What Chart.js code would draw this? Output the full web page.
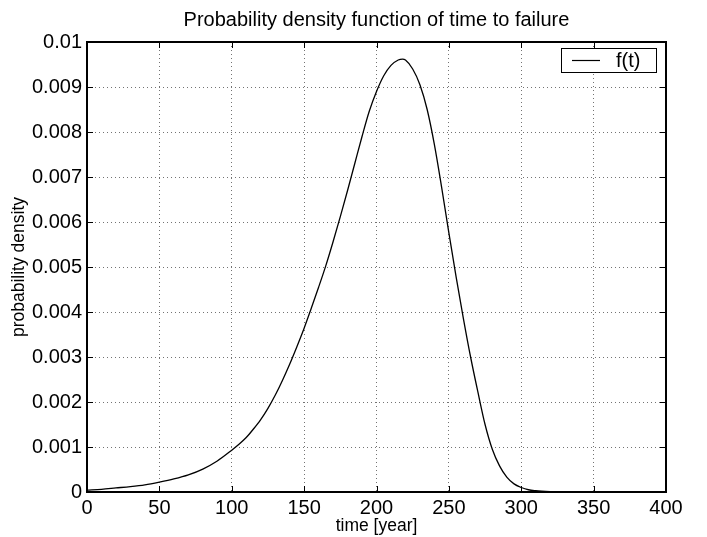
<!DOCTYPE html>
<html>
<head>
<meta charset="utf-8">
<script src="https://cdn.jsdelivr.net/npm/chart.js@4.4.1/dist/chart.umd.min.js"></script>
<style>
  html, body { margin: 0; padding: 0; background: #fff; }
  #wrap { width: 707px; height: 537px; }
</style>
</head>
<body>
<div id="wrap"><canvas id="pdfChart" width="707" height="537"></canvas></div>
<script>
// values
const years = [0, 10, 20, 30, 40, 50, 60, 70, 80, 90, 100, 105, 110, 115, 120, 125, 130, 135,
  140, 145, 150, 155, 160, 165, 170, 175, 180, 185, 190, 195, 200, 205, 210, 215, 218, 220,
  225, 230, 235, 240, 245, 250, 255, 260, 265, 270, 275, 280, 285, 290, 295, 300, 305, 310,
  320, 330, 340, 360, 380, 400]
const density = [0.00004, 0.00006, 0.00009, 0.00012, 0.00016, 0.00022, 0.00029, 0.00038, 0.00051,
  0.00069, 0.00093, 0.00106, 0.00121, 0.0014, 0.00161, 0.00186, 0.00215, 0.00248, 0.00284,
  0.00323, 0.00364, 0.00409, 0.00455, 0.00503, 0.00556, 0.00612, 0.0067, 0.0073, 0.0079, 0.00846,
  0.0089, 0.00925, 0.00948, 0.0096, 0.00962, 0.0096, 0.0094, 0.00905, 0.0085, 0.00772, 0.00677,
  0.00576, 0.00478, 0.00386, 0.003, 0.00223, 0.0015, 0.00095, 0.00058, 0.00033, 0.00018, 0.0001,
  0.00005, 0.00003, 0.00001, 0, 0, 0, 0, 0]

const xTicks = [0, 50, 100, 150, 200, 250, 300, 350, 400]
const yTicks = [0, 0.001, 0.002, 0.003, 0.004, 0.005, 0.006, 0.007, 0.008, 0.009, 0.01]

const titleText = 'Probability density function of time to failure'
const xLabel = 'time [year]'
const yLabel = 'probability density'
const seriesName = 'f(t)'

const fontFam = '"Liberation Sans", Arial, Helvetica, sans-serif'

// box, inward ticks and the boxed legend, drawn the matlab way
const frame = {
  id: 'frame',
  afterDatasetsDraw(chart) {
    const ctx = chart.ctx
    const a = chart.chartArea
    const sx = chart.scales.x
    const sy = chart.scales.y
    ctx.save()
    ctx.strokeStyle = '#000'
    ctx.lineWidth = 1
    const tl = 6
    xTicks.forEach(v => {
      const px = Math.round(sx.getPixelForValue(v)) + 0.5
      ctx.beginPath()
      ctx.moveTo(px, a.bottom); ctx.lineTo(px, a.bottom - tl)
      ctx.moveTo(px, a.top); ctx.lineTo(px, a.top + tl)
      ctx.stroke()
    })
    yTicks.forEach(v => {
      const py = Math.round(sy.getPixelForValue(v)) + 0.5
      ctx.beginPath()
      ctx.moveTo(a.left, py); ctx.lineTo(a.left + tl, py)
      ctx.moveTo(a.right, py); ctx.lineTo(a.right - tl, py)
      ctx.stroke()
    })
    ctx.lineWidth = 2
    ctx.strokeRect(a.left, a.top, a.right - a.left, a.bottom - a.top)

    // legend
    const lx = 561, ly = 48, lw = 95, lh = 24
    ctx.fillStyle = '#fff'
    ctx.fillRect(lx, ly, lw, lh)
    ctx.lineWidth = 1
    ctx.strokeRect(lx + 0.5, ly + 0.5, lw, lh)
    ctx.beginPath()
    ctx.lineWidth = 1.2
    ctx.moveTo(572, ly + lh / 2 + 0.5); ctx.lineTo(600, ly + lh / 2 + 0.5)
    ctx.stroke()
    ctx.fillStyle = '#000'
    ctx.font = '20px ' + fontFam
    ctx.textBaseline = 'middle'
    ctx.textAlign = 'left'
    ctx.fillText(chart.data.datasets[0].label, 616, ly + lh / 2 + 1)
    ctx.restore()
  }
}

const ctx = document.getElementById('pdfChart')
new Chart(ctx, {
  type: 'line',
  data: {
    datasets: [{
      label: seriesName,
      data: years.map((t, i) => ({ x: t, y: density[i] })),
      borderColor: '#000',
      borderWidth: 1.3,
      pointRadius: 0,
      fill: false,
      cubicInterpolationMode: 'monotone'
    }]
  },
  options: {
    responsive: false,
    animation: false,
    devicePixelRatio: 1,
    layout: { padding: { left: 0, right: 41, top: 0, bottom: 0 } },
    plugins: {
      legend: { display: false },
      tooltip: { enabled: false },
      title: {
        display: true,
        fullSize: false,
        text: titleText,
        color: '#000',
        font: { family: fontFam, size: 20, weight: 'normal', lineHeight: 1.2 },
        padding: { top: 8, bottom: 10 }
      }
    },
    scales: {
      x: {
        type: 'linear',
        min: 0,
        max: 400,
        afterFit: s => { s.height = 45 },
        afterBuildTicks: s => { s.ticks = xTicks.map(v => ({ value: v })) },
        ticks: {
          color: '#000',
          font: { family: fontFam, size: 20 },
          padding: 4,
          maxRotation: 0
        },
        grid: { color: 'rgba(0,0,0,0.55)', lineWidth: 1, tickLength: 0, drawTicks: true },
        border: { display: false, dash: [1, 3] },
        title: {
          display: true,
          text: xLabel,
          color: '#000',
          font: { family: fontFam, size: 17.5 },
          padding: { top: 0, bottom: 0 }
        }
      },
      y: {
        min: 0,
        max: 0.01,
        afterFit: s => { s.width = 87 },
        afterBuildTicks: s => { s.ticks = yTicks.map(v => ({ value: v })) },
        ticks: {
          color: '#000',
          font: { family: fontFam, size: 20 },
          padding: 5,
          callback: v => String(Number(v.toFixed(3)))
        },
        grid: { color: 'rgba(0,0,0,0.55)', lineWidth: 1, tickLength: 0, drawTicks: true },
        border: { display: false, dash: [1, 3] },
        title: {
          display: true,
          text: yLabel,
          color: '#000',
          font: { family: fontFam, size: 17.5 },
          padding: { top: 9, bottom: 0 }
        }
      }
    }
  },
  plugins: [frame]
})
</script>
</body>
</html>
